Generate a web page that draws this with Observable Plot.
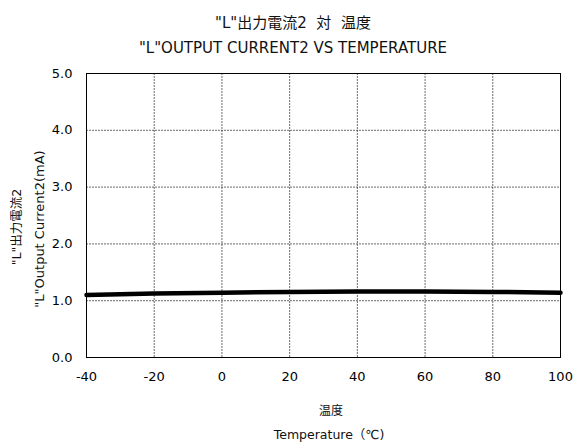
<!DOCTYPE html>
<html>
<head>
<meta charset="utf-8">
<script src="https://cdn.jsdelivr.net/npm/d3@7"></script>
<script src="https://cdn.jsdelivr.net/npm/@observablehq/plot@0.6"></script>
<style>
html, body { margin: 0; padding: 0; background: #fff; }
#chart svg { display: block; }
</style>
</head>
<body>
<div id="chart"></div>
<script>
const temperature = [-40, -20, 0, 20, 40, 60, 80, 100];
const current = [1.10, 1.125, 1.14, 1.155, 1.16, 1.16, 1.155, 1.14];
const xTicks = [-40, -20, 0, 20, 40, 60, 80, 100];
const yTicks = [0, 1, 2, 3, 4, 5];
const titleJa = "\"L\"出力電流2  対  温度";
const titleEn = "\"L\"OUTPUT CURRENT2 VS TEMPERATURE";
const xLabelJa = "温度";
const xLabelEn = "Temperature（℃)";
const yLabelJa = "\"L\"出力電流2";
const yLabelEn = "\"L\"Output Current2(mA)";

const data = temperature.map((t, i) => ({t, v: current[i]}));
const font = "Verdana, 'DejaVu Sans', 'Noto Sans CJK JP', sans-serif";

const plot = Plot.plot({
  width: 574,
  height: 442,
  marginLeft: 86,
  marginRight: 14,
  marginTop: 73,
  marginBottom: 85,
  style: {fontFamily: font, fontSize: "13px", color: "#000", background: "#fff"},
  x: {domain: [-40, 100], ticks: xTicks, label: null},
  y: {domain: [0, 5], ticks: yTicks, label: null, tickFormat: d => d.toFixed(1)},
  marks: [
    Plot.gridX(xTicks, {stroke: "#444", strokeOpacity: 1, strokeWidth: 0.8, strokeDasharray: "2,1"}),
    Plot.gridY(yTicks, {stroke: "#444", strokeOpacity: 1, strokeWidth: 0.8, strokeDasharray: "2,1"}),
    Plot.axisX(xTicks, {tickSize: 0, tickPadding: 14, fontSize: 13, label: null, tickFormat: d => String(d)}),
    Plot.axisY(yTicks, {tickSize: 0, tickPadding: 14, fontSize: 13, label: null, tickFormat: d => d.toFixed(1)}),
    Plot.line(data, {x: "t", y: "v", stroke: "#000", strokeWidth: 4.5}),
    Plot.frame({stroke: "#000", strokeWidth: 1})
  ]
});

const svg = d3.select(plot);
const addText = (x, y, txt, size, rot) => {
  const t = svg.append("text")
    .attr("x", x).attr("y", y)
    .attr("text-anchor", "middle")
    .attr("dominant-baseline", "middle")
    .attr("font-family", font)
    .attr("font-size", size)
    .attr("fill", "#111")
    .text(txt);
  if (rot) t.attr("transform", `rotate(-90, ${x}, ${y})`);
};
addText(293, 23, titleJa, 15);
addText(293, 48, titleEn, 15);
addText(331, 411, xLabelJa, 12);
addText(329, 435, xLabelEn, 12.5);
addText(17, 227, yLabelJa, 12.5, true);
addText(40, 229, yLabelEn, 13, true);

document.getElementById("chart").appendChild(plot);
</script>
</body>
</html>
